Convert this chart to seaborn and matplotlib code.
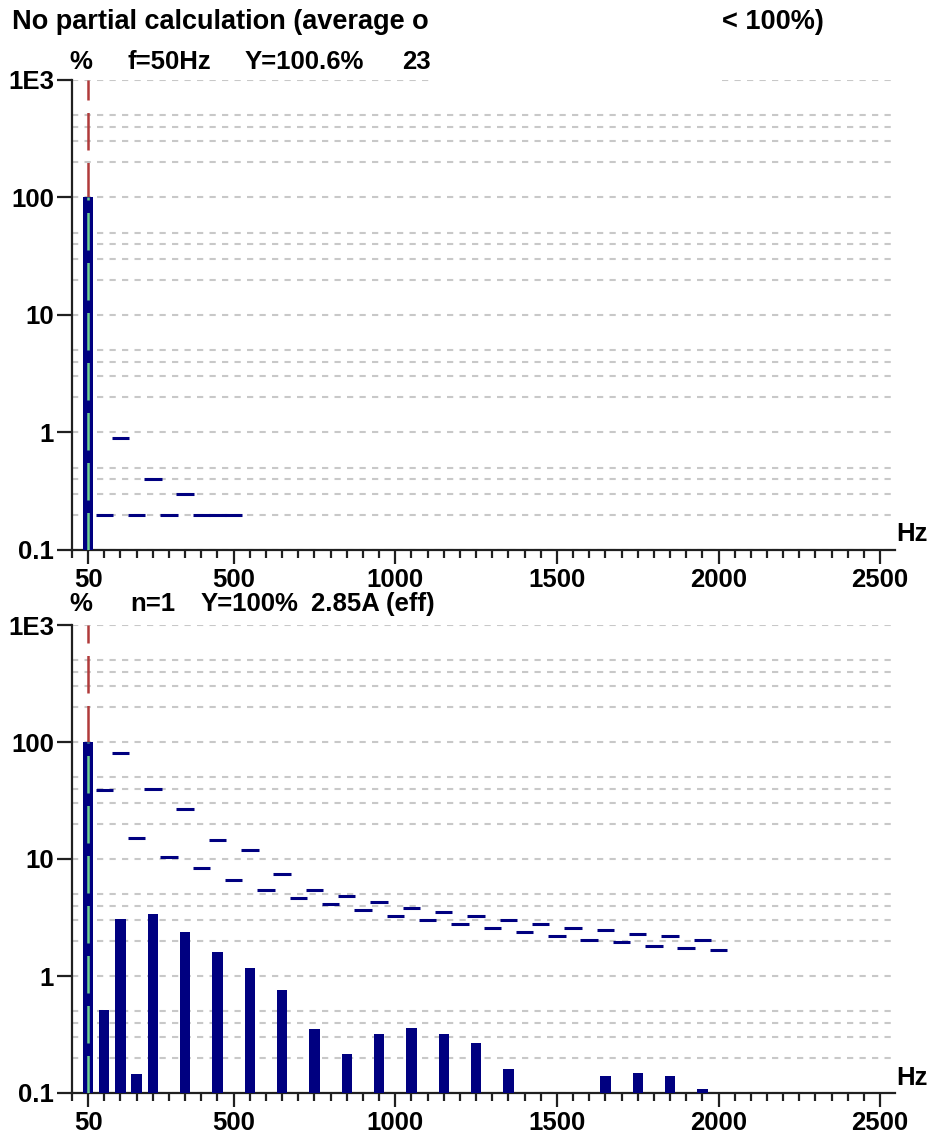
import matplotlib
matplotlib.use("Agg")
import matplotlib.pyplot as plt
import seaborn as sns
from matplotlib.ticker import LogLocator, MultipleLocator, NullFormatter
from matplotlib.patches import Rectangle

# top panel: voltage spectrum (only fundamental above 0.1 %)
top_freq = [50]
top_val = [100.6]
top_lim_freq = [100, 150, 200, 250, 300, 350, 400, 450, 500]
top_lim_val = [0.2, 0.9, 0.2, 0.4, 0.2, 0.3, 0.2, 0.2, 0.2]

# bottom panel: current harmonics in % of fundamental
bot_freq = [50, 100, 150, 200, 250, 350, 450, 550, 650, 750, 850, 950,
            1050, 1150, 1250, 1350, 1650, 1750, 1850, 1950]
bot_val = [100, 0.51, 3.1, 0.145, 3.4, 2.4, 1.6, 1.18, 0.76, 0.35, 0.215, 0.32,
           0.36, 0.32, 0.265, 0.16, 0.14, 0.147, 0.14, 0.108]
bot_lim_freq = [100, 150, 200, 250, 300, 350, 400, 450, 500, 550, 600, 650,
                700, 750, 800, 850, 900, 950, 1000, 1050, 1100, 1150, 1200,
                1250, 1300, 1350, 1400, 1450, 1500, 1550, 1600, 1650, 1700,
                1750, 1800, 1850, 1900, 1950, 2000]
bot_lim_val = [39, 81, 15, 40, 10.5, 27, 8.3, 14.5, 6.6, 11.9, 5.4, 7.4,
               4.6, 5.4, 4.1, 4.8, 3.64, 4.27, 3.24, 3.79, 2.99, 3.5, 2.77,
               3.24, 2.56, 2.99, 2.36, 2.77, 2.18, 2.56, 2.02, 2.46, 1.94,
               2.27, 1.79, 2.18, 1.73, 2.02, 1.66]

x_ticks = [50, 500, 1000, 1500, 2000, 2500]
y_ticks = [0.1, 1, 10, 100, 1000]
y_labels = ["0.1", "1", "10", "100", "1E3"]

NAVY = "#000080"
RED = "#b03a3a"
GREEN = "#70d090"
GRID = "#c8c8c8"
FS = 18.5

sns.set_style("white")
plt.rcParams['font.family'] = ['Liberation Sans', 'DejaVu Sans']
plt.rcParams['font.weight'] = 'bold'
plt.rcParams['text.color'] = 'black'
plt.rcParams['xtick.color'] = 'black'
plt.rcParams['ytick.color'] = 'black'

W, H = 934, 1137
fig = plt.figure(figsize=(W / 100, H / 100), dpi=100)


def px(x, y):
    return x / W, 1 - y / H


def panel(rect_top, rect_bot, freq, val, lim_f, lim_v, width):
    ax = fig.add_axes([72 / W, 1 - rect_bot / H, 823 / W, (rect_bot - rect_top) / H])
    ax.set_yscale("log")
    ax.set_axisbelow(True)
    ax.vlines(50, 0.1, 1000, color=RED, lw=1.8, linestyles=(0, (15, 5)), zorder=2)
    sns.barplot(x=freq, y=val, native_scale=True, width=width, color=NAVY,
                saturation=1, errorbar=None, linewidth=0, ax=ax, zorder=3)
    ax.vlines(50, 0.1, val[0], color=GREEN, lw=1.8, linestyles=(0, (15, 5)), zorder=4)
    ax.hlines(lim_v, [f - 27 for f in lim_f], [f + 27 for f in lim_f],
              color=NAVY, lw=2.2, zorder=5)
    ax.set_xlim(0, 2546)
    ax.set_ylim(0.1, 1000)
    ax.set_yticks(y_ticks, y_labels)
    ax.yaxis.set_minor_locator(LogLocator(base=10, subs=(2, 3, 4, 5)))
    ax.yaxis.set_minor_formatter(NullFormatter())
    ax.set_xticks(x_ticks, [str(t) for t in x_ticks])
    ax.xaxis.set_minor_locator(MultipleLocator(50))
    ax.grid(True, which="both", axis="y", color=GRID, lw=1.5, linestyle=(0, (3, 3)))
    ax.grid(False, axis="x")
    ax.tick_params(axis="y", which="major", length=11, width=1.6, pad=2,
                   labelsize=FS, color="#202020", direction="out", left=True)
    ax.tick_params(axis="y", which="minor", length=0)
    ax.tick_params(axis="x", which="major", length=10, width=1.6, pad=3,
                   labelsize=FS, color="#202020", direction="out", bottom=True)
    ax.tick_params(axis="x", which="minor", length=6, width=1.6,
                   color="#202020", direction="out", bottom=True)
    for s in ["top", "right"]:
        ax.spines[s].set_visible(False)
    for s in ["left", "bottom"]:
        ax.spines[s].set_color("#202020")
        ax.spines[s].set_linewidth(1.6)
    ax.set_xlabel("")
    ax.set_ylabel("")
    return ax


ax1 = panel(80, 550, top_freq, top_val, top_lim_freq, top_lim_val, 32)
# gap in the top grid line behind the hidden header text
ax1.add_patch(Rectangle((1105, 800), 907, 300, facecolor="white",
                        edgecolor="none", zorder=1))
ax2 = panel(625, 1093, bot_freq, bot_val, bot_lim_freq, bot_lim_val, 0.64)

kw = dict(fontsize=FS, fontweight="bold", va="center", ha="left")
tkw = dict(kw, fontsize=19.5)
fig.text(*px(12, 22), "No partial calculation (average o", **tkw)
fig.text(*px(722, 22), "< 100%)", **tkw)

fig.text(*px(81, 62), "%", fontsize=FS, fontweight="bold", va="center", ha="center")
fig.text(*px(128, 62), "f=50Hz", **kw)
fig.text(*px(245, 62), "Y=100.6%", **kw)
fig.text(*px(402, 62), "23", **kw)

fig.text(*px(81, 604), "%", fontsize=FS, fontweight="bold", va="center", ha="center")
fig.text(*px(130, 604), "n=1", **kw)
fig.text(*px(201, 604), "Y=100%", **kw)
fig.text(*px(311, 604), "2.85A (eff)", **kw)

fig.text(*px(896, 534), "Hz", **kw)
fig.text(*px(896, 1078), "Hz", **kw)

fig.savefig("out.png", dpi=100)
